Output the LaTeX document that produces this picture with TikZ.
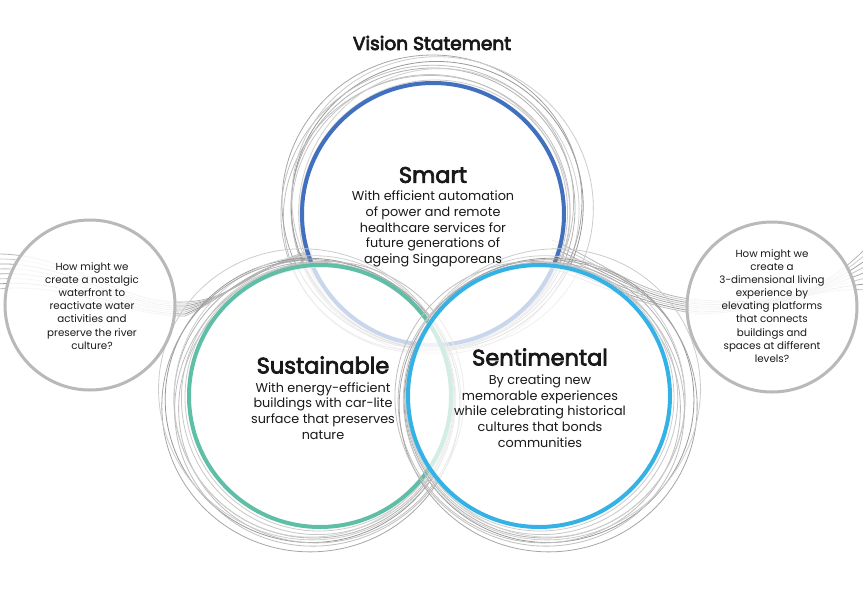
\documentclass[tikz,border=0pt]{standalone}
\usepackage{fontspec}
\setmainfont{Poppins}
\newfontfamily\popmed[FakeBold=3.2]{Poppins}
\newfontfamily\popsemi[FakeBold=4]{Poppins}
\definecolor{smartblue}{RGB}{64,112,190}
\definecolor{sustteal}{RGB}{94,190,166}
\definecolor{sentcyan}{RGB}{52,178,230}
\definecolor{qgray}{RGB}{185,185,185}
\definecolor{txt}{RGB}{25,25,25}
\begin{document}
\begin{tikzpicture}[x=1pt,y=-1pt,
  bigc/.style={circle, line width=4pt, fill=white, fill opacity=0.72, draw opacity=1, minimum size=262pt, inner sep=0pt},
  smallc/.style={circle, line width=3pt, draw=qgray, fill=white, fill opacity=0.86, draw opacity=1, minimum size=170pt, inner sep=0pt},
  ring/.style={line width=0.8pt},
  flow/.style={line width=0.8pt},
  head/.style={font=\popmed\fontsize{22.5}{26}\selectfont, text=txt, inner sep=0pt},
  desc/.style={font=\fontsize{12.8}{15.7}\selectfont, text=txt, align=center, inner sep=0pt},
  qtext/.style={font=\fontsize{10.3}{13.1}\selectfont, text=txt, align=center, inner sep=0pt},
  titletext/.style={font=\popsemi\fontsize{18.6}{21}\selectfont, text=txt, inner sep=0pt}
]
\fill[white] (0,0) rectangle (863,611);
\useasboundingbox (0,0) rectangle (863,611);

\coordinate (cSm) at (433,214);
\coordinate (cSu) at (320,396);
\coordinate (cSe) at (539,396);

% flowing line bundles
\foreach \k/\c in {0/28,1/20,2/35,3/24,4/32,5/20,6/38,7/25}{
  \draw[flow, draw=black!\c] (-2,{254+5*\k}) .. controls (70,{254+4*\k}) and (120,{305+1.5*\k}) .. (185,{302+2*\k}) .. controls (235,{300-\k}) and (255,{266-\k}) .. (312,{250+1.5*\k});
  \draw[flow, draw=black!\c] (552,{240+4*\k}) .. controls (600,{260+3.5*\k}) and (640,{296+1.5*\k}) .. (700,{300+2*\k}) .. controls (770,{305+\k}) and (815,{300-2*\k}) .. (866,{248+6*\k});
}

% Smart
\foreach \dx/\dy/\rx/\ry/\rot/\c in {0/-6/142/140/0/30, -3/-3/138/137/10/22, 3/-9/146/144/-8/40, -6/-2/144/138/20/25, 5/-4/140/143/-15/18, 0/-12/150/147/5/35, 2/0/135/134/0/20, -2/-8/148/141/30/25, 4/-14/152/145/-25/20}{
  \draw[ring, draw=black!\c, rotate around={\rot:([shift={(\dx,\dy)}]cSm)}] ([shift={(\dx,\dy)}]cSm) ellipse [x radius=\rx, y radius=\ry];
}
\node[bigc, draw=smartblue] (smart) at (cSm) {};

% Sustainable
\foreach \dx/\dy/\rx/\ry/\rot/\c in {-6/4/140/138/0/30, -3/2/136/136/10/22, -9/6/145/142/-10/40, -4/8/142/137/25/25, -7/3/138/141/-20/18, -10/9/149/146/5/35, -1/1/134/134/0/20, -5/6/147/140/35/25, -12/5/150/144/-30/20}{
  \draw[ring, draw=black!\c, rotate around={\rot:([shift={(\dx,\dy)}]cSu)}] ([shift={(\dx,\dy)}]cSu) ellipse [x radius=\rx, y radius=\ry];
}
\node[bigc, draw=sustteal] (sust) at (cSu) {};

% Sentimental
\foreach \dx/\dy/\rx/\ry/\rot/\c in {6/4/140/138/0/30, 3/2/136/136/-10/22, 9/6/145/142/10/40, 4/8/142/137/-25/25, 7/3/138/141/20/18, 10/9/149/146/-5/35, 1/1/134/134/0/20, 5/6/147/140/-35/25, 12/5/150/144/30/20}{
  \draw[ring, draw=black!\c, rotate around={\rot:([shift={(\dx,\dy)}]cSe)}] ([shift={(\dx,\dy)}]cSe) ellipse [x radius=\rx, y radius=\ry];
}
\node[bigc, draw=sentcyan] (sent) at (cSe) {};

% question circles
\node[smallc] (qleft) at (90,305) {};
\node[smallc] (qright) at (772,307) {};

% texts
\node[titletext] (title) at (432,43) {Vision Statement};

\node[head] (smartH) at (433,175) {Smart};
\node[desc] (smartD) at (433,229) {With efficient automation\\of power and remote\\healthcare services for\\future generations of\\ageing Singaporeans};

\node[head] (sustH) at (323,365) {Sustainable};
\node[desc] (sustD) at (323,411) {With energy-efficient\\buildings with car-lite\\surface that preserves\\nature};

\node[head] (sentH) at (540,357) {Sentimental};
\node[desc] (sentD) at (540,411) {By creating new\\memorable experiences\\while celebrating historical\\cultures that bonds\\communities};

\node[qtext] (qleftT) at (92,306) {How might we\\create a nostalgic\\waterfront to\\reactivate water\\activities and\\preserve the river\\culture?};
\node[qtext] (qrightT) at (772,306) {How might we\\create a\\{}3-dimensional living\\experience by\\elevating platforms\\that connects\\buildings and\\spaces at different\\levels?};
\end{tikzpicture}
\end{document}
